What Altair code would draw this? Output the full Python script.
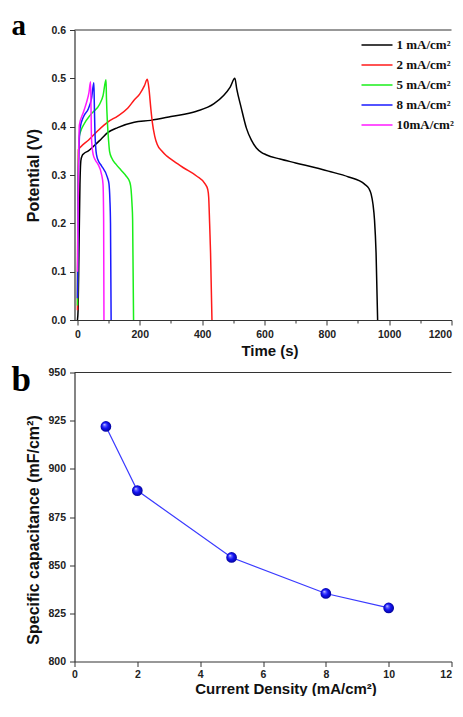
import altair as alt
import pandas as pd

# ---------------- Panel a: galvanostatic charge/discharge ----------------
series_names = ["1 mA/cm²", "2 mA/cm²", "5 mA/cm²", "8 mA/cm²", "10mA/cm²"]
series_colors = ["#000000", "#ff1a1a", "#1aee1a", "#1a1aff", "#ff1aff"]

t_1 = [0, 2, 5, 8, 11, 15, 20, 35, 56, 77, 98, 129, 182, 235, 300, 382, 437, 468, 490, 505,
       511, 525, 542, 558, 574, 590, 605, 650, 700, 805, 870, 921, 935, 942, 948, 953, 958, 963]
v_1 = [0.0, 0.02, 0.15, 0.28, 0.33, 0.34, 0.344, 0.350, 0.362, 0.375, 0.388, 0.398, 0.409, 0.413, 0.421,
       0.432, 0.447, 0.464, 0.482, 0.500, 0.478, 0.44, 0.397, 0.372, 0.356, 0.347, 0.342, 0.333,
       0.325, 0.308, 0.296, 0.281, 0.272, 0.261, 0.24, 0.207, 0.139, 0.0]

t_2 = [0, 1, 3, 10, 35, 66, 98, 129, 161, 182, 200, 215, 224, 229.5, 235, 240, 248, 256, 270,
       287, 310, 340, 382, 410, 418, 421, 424, 427, 431.5]
v_2 = [0.02, 0.2, 0.352, 0.358, 0.372, 0.392, 0.41, 0.422, 0.438, 0.455, 0.468, 0.485, 0.498,
       0.478, 0.44, 0.41, 0.38, 0.363, 0.35, 0.339, 0.328, 0.315, 0.298, 0.281, 0.27, 0.254,
       0.2, 0.139, 0.0]

t_5 = [0, 2, 5, 10, 19, 45, 71.6, 82, 91.6, 93, 96, 100, 103, 110, 124, 140, 156, 168, 172,
       175, 177, 180]
v_5 = [0.03, 0.25, 0.376, 0.39, 0.403, 0.427, 0.447, 0.464, 0.497, 0.46, 0.41, 0.37, 0.349,
       0.335, 0.322, 0.31, 0.298, 0.285, 0.27, 0.24, 0.207, 0.0]

t_8 = [0, 3, 8.4, 19, 35, 45, 52.6, 54, 56, 61, 68, 77, 96, 101, 104, 106, 108]
v_8 = [0.045, 0.3, 0.397, 0.42, 0.437, 0.458, 0.491, 0.45, 0.39, 0.342, 0.328, 0.319, 0.295,
       0.282, 0.25, 0.2, 0.0]

t_10 = [0, 3, 6, 19, 29.5, 37, 42, 43.5, 45, 50.5, 58, 66, 77, 82, 84, 85]
v_10 = [0.1, 0.3, 0.403, 0.43, 0.451, 0.471, 0.493, 0.44, 0.376, 0.342, 0.33, 0.322, 0.302,
        0.281, 0.207, 0.0]

time_ticks = [0, 100, 200, 300, 400, 500, 600, 700, 800, 900, 1000, 1100, 1200]
potential_ticks = [0.0, 0.05, 0.1, 0.15, 0.2, 0.25, 0.3, 0.35, 0.4, 0.45, 0.5, 0.55, 0.6]

# ---------------- Panel b: specific capacitance ----------------
current_density = [1, 2, 5, 8, 10]
capacitance = [922.0, 888.7, 854.0, 835.3, 827.8]
density_ticks = [0, 1, 2, 3, 4, 5, 6, 7, 8, 9, 10, 11, 12]
capacitance_ticks = [800, 812.5, 825, 837.5, 850, 862.5, 875, 887.5, 900, 912.5, 925, 937.5, 950]

rows = []
for name, ts, vs in zip(series_names, [t_1, t_2, t_5, t_8, t_10], [v_1, v_2, v_5, v_8, v_10]):
    for i, (t, v) in enumerate(zip(ts, vs)):
        rows.append({"series": name, "t": t, "v": v, "order": i})
df_a = pd.DataFrame(rows)
df_b = pd.DataFrame({"j": current_density, "c": capacitance})

major_x_a = "datum.value % 200 == 0"
major_y_a = "abs(datum.value*10 - round(datum.value*10)) < 0.001"
major_x_b = "datum.value % 2 == 0"
major_y_b = "datum.value % 25 == 0"


def cond_tick(test):
    return {"condition": {"test": test, "value": 5}, "value": 3}


def end_align(test):
    return {"condition": {"test": test, "value": "right"}, "value": "center"}


lines_a = alt.Chart(df_a).mark_line(strokeWidth=1.5, interpolate="monotone").encode(
    x=alt.X("t:Q",
            scale=alt.Scale(domain=[-9.5, 1200], nice=False, zero=False),
            axis=alt.Axis(values=time_ticks, format="d",
                          labelExpr=f"{major_x_a} ? datum.label : ''",
                          labelAlign=end_align("datum.value == 1200"),
                          tickSize=cond_tick(major_x_a),
                          title="Time (s)", titleX=195, titlePadding=4)),
    y=alt.Y("v:Q",
            scale=alt.Scale(domain=[0, 0.6], nice=False, zero=False),
            axis=alt.Axis(values=potential_ticks, format=".1f",
                          labelExpr=f"{major_y_a} ? datum.label : ''",
                          tickSize=cond_tick(major_y_a),
                          title="Potential (V)", titleFontSize=16, titlePadding=9)),
    color=alt.Color("series:N",
                    scale=alt.Scale(domain=series_names, range=series_colors),
                    sort=series_names,
                    legend=alt.Legend(title=None, orient="none", legendX=286, legendY=8,
                                      symbolType="stroke", symbolSize=961,
                                      symbolStrokeWidth=1.5, labelFont="Liberation Serif",
                                      labelFontWeight="bold", labelFontSize=13,
                                      labelColor="#111", clipHeight=14, rowPadding=6,
                                      labelOffset=3, padding=0)),
    order="order:Q",
)

top_a = alt.Chart(pd.DataFrame({"k": [0]})).mark_rule(color="#333", strokeWidth=1.2).encode(
    y=alt.datum(0.6)
)

letter_a = alt.Chart(pd.DataFrame({"letter": ["a"]})).mark_text(
    font="Liberation Serif", fontWeight="bold", fontSize=29, align="left",
    baseline="alphabetic", color="#000"
).encode(x=alt.value(-63), y=alt.value(5), text="letter:N")

panel_a = alt.layer(lines_a, top_a, letter_a).properties(width=377, height=290)

line_b = alt.Chart(df_b).mark_line(color="#3a3aff", strokeWidth=1.2).encode(
    x=alt.X("j:Q",
            scale=alt.Scale(domain=[0, 12], nice=False, zero=False),
            axis=alt.Axis(values=density_ticks, format="d",
                          labelExpr=f"{major_x_b} ? datum.label : ''",
                          labelAlign=end_align("datum.value == 12"),
                          tickSize=cond_tick(major_x_b), labelPadding=3,
                          title="Current Density (mA/cm²)", titleFontSize=15,
                          titleX=211, titlePadding=1)),
    y=alt.Y("c:Q",
            scale=alt.Scale(domain=[800, 950], nice=False, zero=False),
            axis=alt.Axis(values=capacitance_ticks, format="d",
                          labelExpr=f"{major_y_b} ? datum.label : ''",
                          tickSize=cond_tick(major_y_b),
                          title="Specific capacitance (mF/cm²)", titleFontSize=16,
                          titleY=157, titlePadding=6)),
)

sphere = {
    "gradient": "radial",
    "x1": 0.35, "y1": 0.32, "r1": 0.0,
    "x2": 0.5, "y2": 0.5, "r2": 0.55,
    "stops": [
        {"offset": 0.0, "color": "#ffffff"},
        {"offset": 0.18, "color": "#6a6aff"},
        {"offset": 0.5, "color": "#1414f5"},
        {"offset": 1.0, "color": "#00008a"},
    ],
}
points_b = alt.Chart(df_b).mark_point(filled=True, shape="circle", size=115, opacity=1,
                                       fill=sphere, strokeWidth=0).encode(
    x="j:Q", y="c:Q"
)

top_b = alt.Chart(pd.DataFrame({"k": [0]})).mark_rule(color="#333", strokeWidth=1.2).encode(
    y=alt.datum(950)
)

letter_b = alt.Chart(pd.DataFrame({"letter": ["b"]})).mark_text(
    font="Liberation Serif", fontWeight="bold", fontSize=35, align="left",
    baseline="alphabetic", color="#000"
).encode(x=alt.value(-63), y=alt.value(18), text="letter:N")

panel_b = alt.layer(line_b, points_b, top_b, letter_b).properties(width=377, height=289)

chart = alt.concat(panel_a, panel_b, columns=1, spacing=3.5).properties(
    align="none", bounds="full",
    padding={"left": 3.5, "top": 4, "right": 0, "bottom": 0},
).configure_axis(
    labelFont="Liberation Sans", labelFontWeight="bold", labelFontSize=10.5,
    labelColor="#222", labelPadding=4, labelFlush=False, labelOverlap=False,
    titleFont="Liberation Sans", titleFontWeight="bold", titleFontSize=15,
    titleColor="#111", domainColor="#333", domainWidth=1.2, tickColor="#333",
    tickWidth=1, grid=False,
).configure_view(stroke=None)

chart.save("out.html", embed_options={"renderer": "svg", "actions": False})
